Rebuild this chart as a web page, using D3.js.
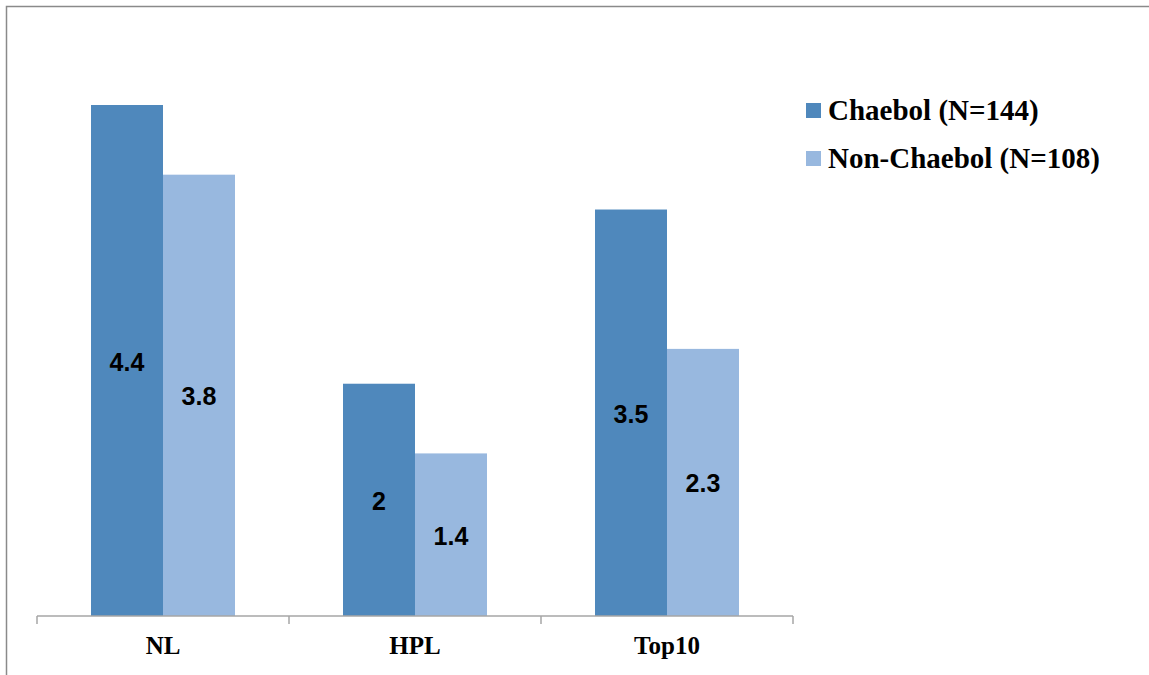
<!DOCTYPE html>
<html>
<head>
<meta charset="utf-8">
<script src="https://cdn.jsdelivr.net/npm/d3@7"></script>
<style>
  html, body { margin: 0; padding: 0; background: #fff; }
  svg { display: block; }
</style>
</head>
<body>
<svg id="chart" width="1149" height="675"></svg>
<script>
// Mean values by ownership group
const categories = ["NL", "HPL", "Top10"];
const seriesNames = ["Chaebol (N=144)", "Non-Chaebol (N=108)"];
const chaebol = [4.4, 2, 3.5];
const nonChaebol = [3.8, 1.4, 2.3];
const seriesColors = ["#4F88BC", "#98B8DF"];

const rows = categories.map((c, i) => ({ cat: c, values: [chaebol[i], nonChaebol[i]] }));

const svg = d3.select("#chart");

// Outer frame (only top and left edges fall inside the view)
svg.append("rect")
  .attr("x", 6.5).attr("y", 6.5)
  .attr("width", 1200).attr("height", 800)
  .attr("fill", "none")
  .attr("stroke", "#8a8a8a")
  .attr("stroke-width", 1.5);

const plotLeft = 37, plotRight = 793, baseY = 616;

const x0 = d3.scaleBand().domain(categories).range([plotLeft, plotRight]).padding(0);
const x1 = d3.scaleBand().domain([0, 1]).range([0, x0.bandwidth()])
  .paddingInner(0).paddingOuter(0.75);
const y = d3.scaleLinear().domain([0, 4.4]).range([baseY, 105]);

// Bars
const groups = svg.append("g").selectAll("g")
  .data(rows).join("g")
  .attr("transform", d => `translate(${x0(d.cat)},0)`);

groups.selectAll("rect")
  .data(d => d.values.map((v, i) => ({ v, i })))
  .join("rect")
  .attr("x", d => x1(d.i))
  .attr("width", x1.bandwidth())
  .attr("y", d => y(d.v))
  .attr("height", d => baseY - y(d.v))
  .attr("fill", d => seriesColors[d.i]);

// Value labels centred in each bar
groups.selectAll("text.val")
  .data(d => d.values.map((v, i) => ({ v, i })))
  .join("text")
  .attr("class", "val")
  .attr("x", d => x1(d.i) + x1.bandwidth() / 2)
  .attr("y", d => (y(d.v) + baseY) / 2 + 1)
  .attr("text-anchor", "middle")
  .attr("dominant-baseline", "central")
  .attr("font-family", "'Liberation Sans', Arial, sans-serif")
  .attr("font-weight", "bold")
  .attr("font-size", 25)
  .attr("fill", "#000")
  .text(d => d.v);

// Category axis
const xAxis = svg.append("g")
  .attr("transform", `translate(0,${baseY})`)
  .call(d3.axisBottom(x0).tickSize(0).tickFormat(""));
xAxis.select(".domain").attr("stroke", "#a6a6a6").attr("stroke-width", 1.5)
  .attr("d", `M${plotLeft},0H${plotRight}`);

// Boundary tick marks between categories
const tickXs = categories.map(c => x0(c)).concat([x0(categories[categories.length - 1]) + x0.bandwidth()]);
svg.append("g").selectAll("line")
  .data(tickXs).join("line")
  .attr("x1", d => d).attr("x2", d => d)
  .attr("y1", baseY).attr("y2", baseY + 8)
  .attr("stroke", "#a6a6a6").attr("stroke-width", 1.5);

svg.append("g").selectAll("text")
  .data(categories).join("text")
  .attr("x", d => x0(d) + x0.bandwidth() / 2)
  .attr("y", 654)
  .attr("text-anchor", "middle")
  .attr("font-family", "'Liberation Serif', 'Times New Roman', serif")
  .attr("font-weight", "bold")
  .attr("font-size", 25)
  .attr("fill", "#000")
  .text(d => d);

// Legend
const legend = svg.append("g").selectAll("g")
  .data(seriesNames).join("g")
  .attr("transform", (d, i) => `translate(806,${103 + i * 48})`);
legend.append("rect")
  .attr("width", 15).attr("height", 15)
  .attr("fill", (d, i) => seriesColors[i]);
legend.append("text")
  .attr("x", 22).attr("y", 17)
  .attr("font-family", "'Liberation Serif', 'Times New Roman', serif")
  .attr("font-weight", "bold")
  .attr("font-size", 29)
  .attr("fill", "#000")
  .text(d => d);
</script>
</body>
</html>
